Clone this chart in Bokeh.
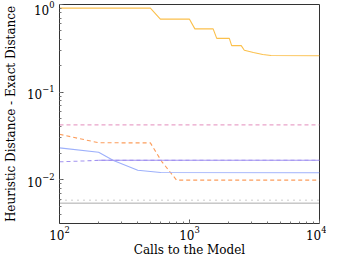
from bokeh.plotting import figure
from bokeh.embed import file_html
from bokeh.resources import INLINE
from bokeh.models import Range1d

# --- data ---
x_orange_solid = [100, 500, 597, 1000, 1100, 1520, 1620, 2025, 2110, 2500, 2640, 3100, 3660, 4240, 10000]
y_orange_solid = [0.91, 0.91, 0.68, 0.68, 0.527, 0.527, 0.41, 0.41, 0.339, 0.339, 0.30, 0.283, 0.269, 0.262, 0.26]

x_pink_dashed = [100, 10000]
y_pink_dashed = [0.0422, 0.0422]

x_orange_dashed = [100, 200, 500, 614, 795, 10000]
y_orange_dashed = [0.033, 0.0264, 0.0263, 0.016, 0.0099, 0.0099]

x_blue_solid = [100, 200, 260, 400, 600, 10000]
y_blue_solid = [0.0231, 0.0206, 0.0166, 0.0128, 0.0121, 0.0120]

x_purple_dashed = [100, 200, 10000]
y_purple_dashed = [0.016, 0.0166, 0.0167]

x_purple_solid = [200, 10000]
y_purple_solid = [0.0167, 0.0167]

x_grey_dotted = [100, 10000]
y_grey_dotted = [0.00584, 0.00584]

x_dark_dotted = [100, 10000]
y_dark_dotted = [0.0054, 0.0054]

FONT = "DejaVu Serif"

p = figure(width=326, height=259, x_axis_type="log", y_axis_type="log",
           output_backend="svg", toolbar_location=None,
           x_range=Range1d(100, 10000), y_range=Range1d(10 ** -2.5, 1),
           min_border_left=49, min_border_right=7, min_border_top=4, min_border_bottom=33)

p.line(x_orange_solid, y_orange_solid, line_color="#fbc04c", line_width=1.1)
p.line(x_pink_dashed, y_pink_dashed, line_color="#e9a3c9", line_width=1.1, line_dash="4 3")
p.line(x_orange_dashed, y_orange_dashed, line_color="#fc9d5c", line_width=1.1, line_dash="4 3")
p.line(x_blue_solid, y_blue_solid, line_color="#9db0fb", line_width=1.1)
p.line(x_purple_dashed, y_purple_dashed, line_color="#a394f0", line_width=1.1, line_dash="4 3")
p.line(x_purple_solid, y_purple_solid, line_color="#a394f0", line_width=1.1)
p.line(x_grey_dotted, y_grey_dotted, line_color="#999999", line_width=1.0, line_dash="1 5")
p.line(x_dark_dotted, y_dark_dotted, line_color="#555555", line_width=1.0, line_dash="1 1")

p.grid.visible = False
p.outline_line_color = "#333333"
p.outline_line_width = 1
p.outline_line_alpha = 1

for ax in (p.xaxis, p.yaxis):
    ax.axis_line_color = "#333333"
    ax.major_tick_in = 4
    ax.major_tick_out = 0
    ax.minor_tick_in = 2
    ax.minor_tick_out = 0
    ax.major_tick_line_color = "#555555"
    ax.minor_tick_line_color = "#777777"
    ax.major_label_text_font = FONT
    ax.major_label_text_font_size = "12px"
    ax.major_label_text_color = "black"
    ax.axis_label_text_font = FONT
    ax.axis_label_text_font_size = "12px"
    ax.axis_label_text_font_style = "normal"
    ax.axis_label_text_color = "black"

p.xaxis.major_label_standoff = 2
p.xaxis.axis_label_standoff = 0
p.yaxis.major_label_standoff = 5
p.yaxis.axis_label_standoff = 6

p.xaxis.axis_label = "Calls to the Model"
p.yaxis.axis_label = "Heuristic Distance - Exact Distance"

open("out.html", "w").write(file_html(p, INLINE))
